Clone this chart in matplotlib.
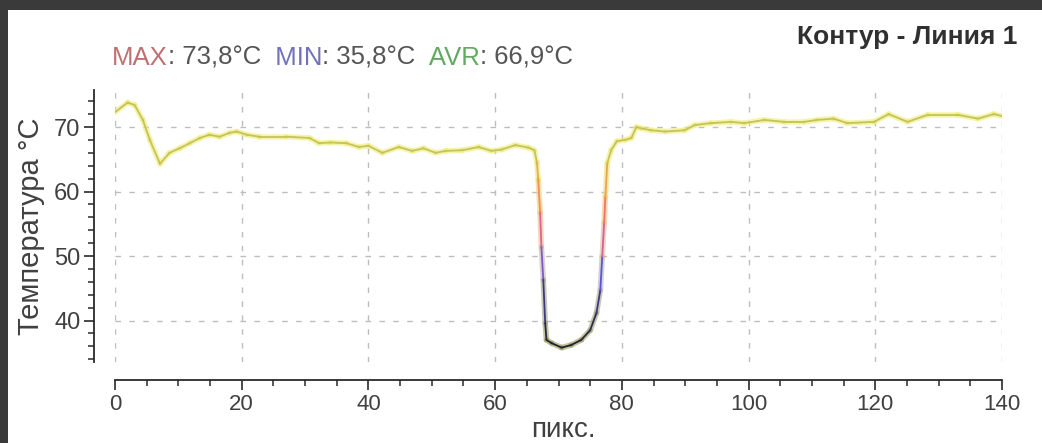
import numpy as np
import matplotlib
matplotlib.use("Agg")
import matplotlib.pyplot as plt
from matplotlib.collections import LineCollection
from matplotlib.colors import LinearSegmentedColormap, to_rgb
from matplotlib.ticker import MultipleLocator

# data
pix = [0, 2, 3.1, 4.4, 5.5, 7.1, 8.6, 10.2, 11.8, 13.4, 14.9, 16.5, 18.1, 19.2, 20.8,
       22.8, 27, 30.7, 32.2, 34, 36.5, 38.5, 40, 42.2, 44.8, 46.9, 48.7, 50.6, 52.2,
       54.8, 57.4, 59.4, 61, 63.2, 65.3, 66.2, 66.6, 66.8, 67.1, 67.3, 67.6, 67.9,
       68.1, 68.9, 70.5, 72, 73.6, 75, 76, 76.6, 76.9, 77.2, 77.4, 77.7, 78.3, 79.2,
       80.5, 81.5, 82.3, 83, 84.6, 86.8, 89.9, 91.5, 94, 97.2, 99.3, 102.5, 105.6,
       108.8, 110.8, 113.4, 115.6, 119.8, 122.1, 125.1, 128.3, 133, 136.2, 138.7, 140]
temp = [72.3, 73.8, 73.4, 71.1, 68.0, 64.3, 66.0, 66.7, 67.5, 68.3, 68.8, 68.5, 69.1,
        69.3, 68.8, 68.5, 68.5, 68.3, 67.5, 67.6, 67.5, 66.9, 67.1, 66.0, 66.9, 66.3,
        66.7, 66.0, 66.3, 66.4, 66.9, 66.3, 66.5, 67.2, 66.8, 66.4, 64.5, 61.8, 56.7,
        51.4, 46.3, 39.6, 37.0, 36.5, 35.8, 36.2, 37.0, 38.5, 41.2, 44.7, 49.9, 55.1,
        59.2, 64.4, 66.4, 67.8, 68.0, 68.3, 70.0, 69.8, 69.5, 69.3, 69.5, 70.3, 70.6,
        70.8, 70.6, 71.1, 70.8, 70.8, 71.1, 71.3, 70.6, 70.8, 72.0, 70.8, 71.9, 71.9,
        71.3, 72.0, 71.7]

stats = [("MAX", "73,8°C"), ("MIN", "35,8°C"), ("AVR", "66,9°C")]
stat_colors = ["#c07070", "#7272b8", "#62aa62"]
title = "Контур - Линия 1"
ylabel = "Температура °C"
xlabel = "пикс."

plt.rcParams["font.family"] = ["Liberation Sans", "DejaVu Sans"]

fig = plt.figure(figsize=(10.42, 4.43), dpi=100)
fig.patch.set_facecolor("#3a3a3a")
fig.add_artist(plt.Rectangle((8 / 1042, 0), 1, 1 - 10 / 443, transform=fig.transFigure,
                             facecolor="white", edgecolor="none", zorder=0))

ax = fig.add_axes([115 / 1042, 1 - 362 / 443, 887 / 1042, 272 / 443])
ax.set_facecolor("none")
ax.set_xlim(0, 140)
ax.set_ylim(33.57, 75.74)

for s in ["top", "right"]:
    ax.spines[s].set_visible(False)
ax.spines["left"].set_position(("outward", 15))
ax.spines["bottom"].set_position(("outward", 13))
for s in ["left", "bottom"]:
    ax.spines[s].set_color("#2a2a2a")
    ax.spines[s].set_linewidth(1.3)

ax.xaxis.set_major_locator(MultipleLocator(20))
ax.xaxis.set_minor_locator(MultipleLocator(5))
ax.yaxis.set_major_locator(MultipleLocator(10))
ax.yaxis.set_minor_locator(MultipleLocator(2))
ax.tick_params(which="major", length=7, width=1.2, color="#2a2a2a", labelcolor="#404040")
ax.tick_params(which="minor", length=4, width=1.1, color="#2a2a2a")
ax.tick_params(axis="x", pad=3, labelsize=16)
ax.tick_params(axis="y", pad=3, labelsize=17)

ax.grid(True, which="major", color="#bdbdbd", linestyle=(0, (4, 6)), linewidth=1)

# colour along the profile by temperature
nodes = [(0.0, "#1e1e1e"), (0.18, "#34346a"), (0.31, "#5a52e0"), (0.44, "#d060a8"),
         (0.56, "#f07068"), (0.66, "#f0a048"), (0.77, "#c8c25a"), (1.0, "#c4c258")]
cmap = LinearSegmentedColormap.from_list("iron", nodes)
halo_nodes = [(p, tuple(0.45 * np.array(to_rgb(c)) + 0.55 * np.array([1, 1, 0.55])))
              for p, c in nodes]
halo_nodes[-1] = (1.0, "#eeee78")
halo_nodes[-2] = (0.77, "#eeee78")
halo_cmap = LinearSegmentedColormap.from_list("halo", halo_nodes)

pts = np.column_stack([pix, temp]).reshape(-1, 1, 2)
segs = np.concatenate([pts[:-1], pts[1:]], axis=1)
mid = (np.array(temp[:-1]) + np.array(temp[1:])) / 2
norm = plt.Normalize(35, 74)
halo = LineCollection(segs, cmap=halo_cmap, norm=norm, linewidths=4.0, alpha=0.6,
                      capstyle="round", joinstyle="round")
halo.set_array(mid)
ax.add_collection(halo)
lc = LineCollection(segs, cmap=cmap, norm=norm, linewidths=1.3,
                    capstyle="round", joinstyle="round")
lc.set_array(mid)
ax.add_collection(lc)

ax.set_ylabel(ylabel, fontsize=21, color="#404040")
ax.yaxis.set_label_coords(-0.079, 0.5)
fig.text(563 / 1042, 0.0, xlabel, ha="center", va="bottom",
         fontsize=20, color="#404040")

fig.text(1017 / 1042, 1 - 37 / 443, title, ha="right", va="center",
         fontsize=19, fontweight="bold", color="#303030")

# stats line, pieces chained one after another
prev = fig.text(112 / 1042, 1 - 70 / 443, "", ha="left", va="center", fontsize=18.5)
for i, ((name, val), col) in enumerate(zip(stats, stat_colors)):
    lead = "" if i == 0 else "  "
    prev = ax.annotate(lead + name, xy=(1, 0), xycoords=prev, va="bottom",
                       fontsize=18.5, color=col)
    prev = ax.annotate(": " + val, xy=(1, 0), xycoords=prev, va="bottom",
                       fontsize=18.5, color="#555555")

fig.savefig("out.png", dpi=100, facecolor=fig.get_facecolor())
